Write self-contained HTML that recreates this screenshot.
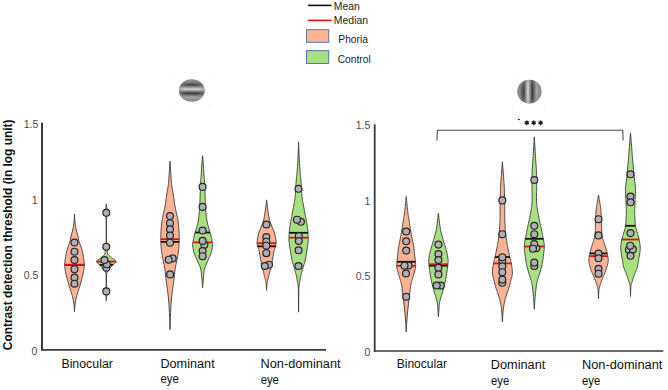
<!DOCTYPE html>
<html><head><meta charset="utf-8"><style>
html,body{margin:0;padding:0;background:#fff;}
body{width:668px;height:390px;overflow:hidden;}
svg{display:block;font-family:"Liberation Sans",sans-serif;}
</style></head><body>
<svg width="668" height="390" viewBox="0 0 668 390">
<defs>
<linearGradient id="gh" x1="0" y1="79" x2="0" y2="102" gradientUnits="userSpaceOnUse">
  <stop offset="0" stop-color="#8c8c8c"/>
  <stop offset="0.08" stop-color="#8c8c8c"/>
  <stop offset="0.25" stop-color="#3c3c3c"/>
  <stop offset="0.44" stop-color="#dadada"/>
  <stop offset="0.62" stop-color="#383838"/>
  <stop offset="0.80" stop-color="#b0b0b0"/>
  <stop offset="0.92" stop-color="#8c8c8c"/>
  <stop offset="1" stop-color="#8c8c8c"/>
</linearGradient>
<linearGradient id="gv" x1="517" y1="0" x2="542" y2="0" gradientUnits="userSpaceOnUse">
  <stop offset="0" stop-color="#8c8c8c"/>
  <stop offset="0.08" stop-color="#8c8c8c"/>
  <stop offset="0.26" stop-color="#3c3c3c"/>
  <stop offset="0.44" stop-color="#dadada"/>
  <stop offset="0.61" stop-color="#383838"/>
  <stop offset="0.79" stop-color="#b0b0b0"/>
  <stop offset="0.92" stop-color="#8c8c8c"/>
  <stop offset="1" stop-color="#8c8c8c"/>
</linearGradient>
<radialGradient id="env">
  <stop offset="0" stop-color="#fff" stop-opacity="1"/>
  <stop offset="0.45" stop-color="#fff" stop-opacity="0.95"/>
  <stop offset="0.8" stop-color="#fff" stop-opacity="0.35"/>
  <stop offset="1" stop-color="#fff" stop-opacity="0"/>
</radialGradient>
<mask id="mh" maskUnits="userSpaceOnUse" x="170" y="70" width="45" height="40"><ellipse cx="191.8" cy="90.5" rx="17" ry="12.5" fill="url(#env)"/></mask>
<mask id="mv" maskUnits="userSpaceOnUse" x="510" y="75" width="40" height="35"><ellipse cx="529.4" cy="91.6" rx="13.2" ry="17" fill="url(#env)"/></mask>
<clipPath id="ch"><ellipse cx="191.8" cy="90.5" rx="12.9" ry="11.3"/></clipPath>
<clipPath id="cv"><ellipse cx="529.4" cy="91.6" rx="12.2" ry="11.8"/></clipPath>
<filter id="blur1" x="-20%" y="-20%" width="140%" height="140%"><feGaussianBlur stdDeviation="0.55"/></filter>
</defs>
<g filter="url(#blur1)"><ellipse cx="191.8" cy="90.5" rx="12.9" ry="11.3" fill="#8e8e8e"/><g clip-path="url(#ch)"><rect x="170" y="70" width="45" height="40" fill="url(#gh)" mask="url(#mh)"/></g></g>
<g filter="url(#blur1)"><ellipse cx="529.4" cy="91.6" rx="12.2" ry="11.8" fill="#8e8e8e"/><g clip-path="url(#cv)"><rect x="510" y="75" width="40" height="35" fill="url(#gv)" mask="url(#mv)"/></g></g>
<rect x="171.0" y="75.1" width="1" height="1" fill="#d4d4d4"/>
<rect x="210.5" y="75.1" width="1" height="1" fill="#d4d4d4"/>
<rect x="171.0" y="104.5" width="1" height="1" fill="#d4d4d4"/>
<rect x="210.5" y="104.5" width="1" height="1" fill="#d4d4d4"/>
<rect x="512.8" y="72.9" width="1" height="1" fill="#d4d4d4"/>
<rect x="544.9" y="72.9" width="1" height="1" fill="#d4d4d4"/>
<rect x="512.8" y="109.8" width="1" height="1" fill="#d4d4d4"/>
<rect x="544.9" y="109.8" width="1" height="1" fill="#d4d4d4"/>
<line x1="42" y1="122.7" x2="42" y2="350.5" stroke="#3a3a3a" stroke-width="2"/>
<line x1="41" y1="349.8" x2="326" y2="349.8" stroke="#3a3a3a" stroke-width="1.8"/>
<line x1="374.7" y1="124.2" x2="374.7" y2="351.8" stroke="#3a3a3a" stroke-width="1.8"/>
<line x1="373.8" y1="351" x2="663.3" y2="351" stroke="#3a3a3a" stroke-width="1.7"/>
<text x="38.4" y="127.7" font-size="10.5" text-anchor="end" font-weight="normal" fill="#4a4a4a">1.5</text>
<text x="37.6" y="203.5" font-size="10.5" text-anchor="end" font-weight="normal" fill="#4a4a4a">1</text>
<text x="38.4" y="278.8" font-size="10.5" text-anchor="end" font-weight="normal" fill="#4a4a4a">0.5</text>
<text x="37.4" y="354.6" font-size="10.5" text-anchor="end" font-weight="normal" fill="#4a4a4a">0</text>
<text x="370.4" y="129.20000000000002" font-size="10.5" text-anchor="end" font-weight="normal" fill="#4a4a4a">1.5</text>
<text x="370.4" y="204.60000000000002" font-size="10.5" text-anchor="end" font-weight="normal" fill="#4a4a4a">1</text>
<text x="370.4" y="279.8" font-size="10.5" text-anchor="end" font-weight="normal" fill="#4a4a4a">0.5</text>
<text x="370.4" y="355.7" font-size="10.5" text-anchor="end" font-weight="normal" fill="#4a4a4a">0</text>
<path d="M436.9,140.5 L437.4,130.3 L622.8,130.3 L623.1,140.5" fill="none" stroke="#4a4a4a" stroke-width="1.05"/>
<path d="M526.80,120.40L526.80,125.20M524.72,121.60L528.88,124.00M528.88,121.60L524.72,124.00" stroke="#1a1a1a" stroke-width="1.35" stroke-linecap="butt"/>
<path d="M533.70,120.40L533.70,125.20M531.62,121.60L535.78,124.00M535.78,121.60L531.62,124.00" stroke="#1a1a1a" stroke-width="1.35" stroke-linecap="butt"/>
<path d="M540.60,120.40L540.60,125.20M538.52,121.60L542.68,124.00M542.68,121.60L538.52,124.00" stroke="#1a1a1a" stroke-width="1.35" stroke-linecap="butt"/>
<rect x="517.9" y="119.0" width="1.9" height="1.1" fill="#222"/>
<path d="M74.50,214.00 L74.55,214.87 L74.60,216.07 L74.67,217.50 L74.76,219.04 L74.86,220.57 L75.00,222.00 L75.17,223.36 L75.36,224.74 L75.58,226.12 L75.81,227.48 L76.06,228.78 L76.30,230.00 L76.55,231.12 L76.82,232.15 L77.10,233.12 L77.38,234.07 L77.65,235.02 L77.90,236.00 L78.13,237.02 L78.34,238.05 L78.54,239.08 L78.74,240.10 L78.96,241.08 L79.20,242.00 L79.47,242.82 L79.75,243.53 L80.05,244.21 L80.36,244.91 L80.68,245.72 L81.00,246.70 L81.34,247.86 L81.71,249.15 L82.09,250.54 L82.46,252.00 L82.80,253.49 L83.10,255.00 L83.38,256.55 L83.65,258.17 L83.90,259.83 L84.10,261.50 L84.24,263.13 L84.30,264.70 L84.27,266.16 L84.18,267.53 L84.02,268.87 L83.80,270.24 L83.53,271.70 L83.20,273.30 L82.80,275.10 L82.31,277.06 L81.76,279.11 L81.19,281.17 L80.63,283.16 L80.10,285.00 L79.59,286.69 L79.08,288.30 L78.57,289.84 L78.08,291.33 L77.62,292.78 L77.20,294.20 L76.83,295.56 L76.49,296.83 L76.17,298.07 L75.89,299.31 L75.64,300.61 L75.40,302.00 L75.19,303.62 L75.00,305.45 L74.84,307.34 L74.70,309.11 L74.59,310.62 L74.50,311.70 L74.50,311.70 L74.41,310.62 L74.30,309.11 L74.16,307.34 L74.00,305.45 L73.81,303.62 L73.60,302.00 L73.36,300.61 L73.11,299.31 L72.83,298.07 L72.51,296.83 L72.17,295.56 L71.80,294.20 L71.38,292.78 L70.92,291.33 L70.43,289.84 L69.92,288.30 L69.41,286.69 L68.90,285.00 L68.37,283.16 L67.81,281.17 L67.24,279.11 L66.69,277.06 L66.20,275.10 L65.80,273.30 L65.47,271.70 L65.20,270.24 L64.98,268.87 L64.82,267.53 L64.73,266.16 L64.70,264.70 L64.76,263.13 L64.90,261.50 L65.10,259.83 L65.35,258.17 L65.62,256.55 L65.90,255.00 L66.20,253.49 L66.54,252.00 L66.91,250.54 L67.29,249.15 L67.66,247.86 L68.00,246.70 L68.32,245.72 L68.64,244.91 L68.95,244.21 L69.25,243.53 L69.53,242.82 L69.80,242.00 L70.04,241.08 L70.26,240.10 L70.46,239.08 L70.66,238.05 L70.87,237.02 L71.10,236.00 L71.35,235.02 L71.62,234.07 L71.90,233.12 L72.18,232.15 L72.45,231.12 L72.70,230.00 L72.94,228.78 L73.19,227.48 L73.42,226.12 L73.64,224.74 L73.83,223.36 L74.00,222.00 L74.14,220.57 L74.24,219.04 L74.33,217.50 L74.40,216.07 L74.45,214.87 L74.50,214.00Z" fill="#fbb394" stroke="#3a3a3a" stroke-width="0.9" stroke-linejoin="round"/>
<line x1="64.70" y1="264.9" x2="84.30" y2="264.9" stroke="#111" stroke-width="1.8"/>
<line x1="64.70" y1="264.7" x2="84.30" y2="264.7" stroke="#dd1111" stroke-width="1.8"/>
<circle cx="74.5" cy="242.5" r="3.45" fill="#afafb4" stroke="#262626" stroke-width="1.2"/>
<circle cx="74.5" cy="251.7" r="3.45" fill="#afafb4" stroke="#262626" stroke-width="1.2"/>
<circle cx="74.5" cy="260" r="3.45" fill="#afafb4" stroke="#262626" stroke-width="1.2"/>
<circle cx="74.5" cy="269.2" r="3.45" fill="#afafb4" stroke="#262626" stroke-width="1.2"/>
<circle cx="74.5" cy="277.5" r="3.45" fill="#afafb4" stroke="#262626" stroke-width="1.2"/>
<circle cx="74.5" cy="283.7" r="3.45" fill="#afafb4" stroke="#262626" stroke-width="1.2"/>
<path d="M106.30,203.80 L106.34,204.15 L106.39,204.64 L106.45,205.21 L106.51,205.83 L106.58,206.44 L106.65,207.00 L106.73,207.48 L106.82,207.90 L106.92,208.32 L107.00,208.79 L107.07,209.33 L107.10,210.00 L107.09,210.83 L107.06,211.78 L107.00,212.81 L106.93,213.89 L106.86,214.97 L106.80,216.00 L106.74,216.86 L106.67,217.56 L106.61,218.25 L106.54,219.11 L106.49,220.31 L106.45,222.00 L106.42,224.44 L106.41,227.56 L106.40,231.00 L106.40,234.44 L106.42,237.56 L106.45,240.00 L106.50,241.70 L106.56,242.91 L106.64,243.79 L106.73,244.50 L106.82,245.18 L106.90,246.00 L106.98,246.95 L107.06,247.90 L107.13,248.82 L107.22,249.71 L107.30,250.55 L107.40,251.30 L107.47,251.95 L107.50,252.51 L107.54,253.01 L107.63,253.49 L107.80,253.97 L108.10,254.50 L108.55,255.06 L109.13,255.64 L109.79,256.23 L110.50,256.81 L111.21,257.41 L111.90,258.00 L112.65,258.60 L113.51,259.20 L114.38,259.81 L115.16,260.41 L115.73,261.01 L116.00,261.60 L115.90,262.18 L115.50,262.74 L114.91,263.31 L114.21,263.87 L113.51,264.43 L112.90,265.00 L112.36,265.58 L111.81,266.17 L111.26,266.76 L110.71,267.34 L110.19,267.93 L109.70,268.50 L109.24,269.05 L108.78,269.58 L108.35,270.11 L107.96,270.64 L107.60,271.20 L107.30,271.80 L107.06,272.38 L106.87,272.92 L106.72,273.48 L106.61,274.14 L106.52,274.95 L106.45,276.00 L106.40,277.39 L106.37,279.09 L106.37,280.95 L106.39,282.82 L106.41,284.56 L106.45,286.00 L106.51,287.12 L106.59,288.04 L106.69,288.81 L106.78,289.52 L106.86,290.22 L106.90,291.00 L106.91,291.84 L106.89,292.67 L106.85,293.51 L106.81,294.35 L106.75,295.18 L106.70,296.00 L106.64,296.87 L106.57,297.79 L106.49,298.71 L106.41,299.56 L106.35,300.28 L106.30,300.80 L106.30,300.80 L106.25,300.28 L106.19,299.56 L106.11,298.71 L106.03,297.79 L105.96,296.87 L105.90,296.00 L105.85,295.18 L105.79,294.35 L105.75,293.51 L105.71,292.67 L105.69,291.84 L105.70,291.00 L105.74,290.22 L105.82,289.52 L105.91,288.81 L106.01,288.04 L106.09,287.12 L106.15,286.00 L106.19,284.56 L106.21,282.82 L106.23,280.95 L106.23,279.09 L106.20,277.39 L106.15,276.00 L106.08,274.95 L105.99,274.14 L105.88,273.48 L105.73,272.92 L105.54,272.38 L105.30,271.80 L105.00,271.20 L104.64,270.64 L104.25,270.11 L103.82,269.58 L103.36,269.05 L102.90,268.50 L102.41,267.93 L101.89,267.34 L101.34,266.76 L100.79,266.17 L100.24,265.58 L99.70,265.00 L99.09,264.43 L98.39,263.87 L97.69,263.31 L97.10,262.74 L96.70,262.18 L96.60,261.60 L96.87,261.01 L97.44,260.41 L98.22,259.81 L99.09,259.20 L99.95,258.60 L100.70,258.00 L101.39,257.41 L102.10,256.81 L102.81,256.23 L103.47,255.64 L104.05,255.06 L104.50,254.50 L104.80,253.97 L104.97,253.49 L105.06,253.01 L105.10,252.51 L105.13,251.95 L105.20,251.30 L105.30,250.55 L105.38,249.71 L105.47,248.82 L105.54,247.90 L105.62,246.95 L105.70,246.00 L105.78,245.18 L105.87,244.50 L105.96,243.79 L106.04,242.91 L106.10,241.70 L106.15,240.00 L106.18,237.56 L106.20,234.44 L106.20,231.00 L106.19,227.56 L106.18,224.44 L106.15,222.00 L106.11,220.31 L106.06,219.11 L105.99,218.25 L105.93,217.56 L105.86,216.86 L105.80,216.00 L105.74,214.97 L105.67,213.89 L105.60,212.81 L105.54,211.78 L105.51,210.83 L105.50,210.00 L105.53,209.33 L105.60,208.79 L105.68,208.32 L105.78,207.90 L105.87,207.48 L105.95,207.00 L106.02,206.44 L106.09,205.83 L106.15,205.21 L106.21,204.64 L106.26,204.15 L106.30,203.80Z" fill="#a8e080" stroke="#3a3a3a" stroke-width="0.9" stroke-linejoin="round"/>
<line x1="99.50" y1="264.8" x2="113.10" y2="264.8" stroke="#111" stroke-width="1.8"/>
<line x1="96.60" y1="261.6" x2="116.00" y2="261.6" stroke="#dd1111" stroke-width="1.8"/>
<circle cx="106.3" cy="212.8" r="3.45" fill="#afafb4" stroke="#262626" stroke-width="1.2"/>
<circle cx="106.3" cy="246.7" r="3.45" fill="#afafb4" stroke="#262626" stroke-width="1.2"/>
<circle cx="106.4" cy="267.8" r="3.45" fill="#afafb4" stroke="#262626" stroke-width="1.2"/>
<circle cx="106.9" cy="264.3" r="3.45" fill="#afafb4" stroke="#262626" stroke-width="1.2"/>
<circle cx="104.5" cy="260.0" r="3.45" fill="#afafb4" stroke="#262626" stroke-width="1.2"/>
<circle cx="106.3" cy="291.4" r="3.45" fill="#afafb4" stroke="#262626" stroke-width="1.2"/>
<path d="M170.00,161.20 L170.07,162.14 L170.16,163.44 L170.26,164.97 L170.38,166.65 L170.49,168.36 L170.60,170.00 L170.70,171.65 L170.80,173.40 L170.90,175.19 L171.00,176.93 L171.10,178.56 L171.20,180.00 L171.29,181.17 L171.36,182.12 L171.44,182.95 L171.53,183.77 L171.64,184.69 L171.80,185.80 L172.01,187.13 L172.27,188.59 L172.55,190.14 L172.84,191.75 L173.13,193.38 L173.40,195.00 L173.64,196.62 L173.86,198.27 L174.07,199.95 L174.30,201.64 L174.53,203.32 L174.80,205.00 L175.11,206.72 L175.45,208.50 L175.81,210.29 L176.17,212.01 L176.51,213.60 L176.80,215.00 L177.05,216.12 L177.27,216.99 L177.47,217.73 L177.65,218.46 L177.83,219.31 L178.00,220.40 L178.17,221.76 L178.34,223.30 L178.51,224.96 L178.66,226.67 L178.79,228.37 L178.90,230.00 L178.99,231.56 L179.07,233.11 L179.13,234.65 L179.17,236.18 L179.20,237.69 L179.20,239.20 L179.18,240.70 L179.14,242.20 L179.08,243.69 L179.00,245.16 L178.91,246.60 L178.80,248.00 L178.67,249.38 L178.52,250.73 L178.36,252.06 L178.18,253.36 L177.99,254.60 L177.80,255.80 L177.60,256.91 L177.40,257.92 L177.18,258.89 L176.96,259.86 L176.73,260.88 L176.50,262.00 L176.26,263.20 L176.00,264.44 L175.74,265.73 L175.48,267.08 L175.23,268.50 L175.00,270.00 L174.80,271.62 L174.61,273.35 L174.44,275.16 L174.27,276.98 L174.10,278.78 L173.90,280.50 L173.68,282.12 L173.45,283.69 L173.21,285.22 L172.96,286.76 L172.73,288.34 L172.50,290.00 L172.28,291.71 L172.07,293.44 L171.86,295.22 L171.66,297.06 L171.47,298.98 L171.30,301.00 L171.14,303.15 L170.99,305.42 L170.86,307.77 L170.73,310.17 L170.61,312.59 L170.50,315.00 L170.39,317.58 L170.29,320.39 L170.20,323.23 L170.12,325.86 L170.05,328.09 L170.00,329.70 L170.00,329.70 L169.95,328.09 L169.88,325.86 L169.80,323.23 L169.71,320.39 L169.61,317.58 L169.50,315.00 L169.39,312.59 L169.27,310.17 L169.14,307.77 L169.01,305.42 L168.86,303.15 L168.70,301.00 L168.53,298.98 L168.34,297.06 L168.14,295.22 L167.93,293.44 L167.72,291.71 L167.50,290.00 L167.27,288.34 L167.04,286.76 L166.79,285.22 L166.55,283.69 L166.32,282.12 L166.10,280.50 L165.90,278.78 L165.73,276.98 L165.56,275.16 L165.39,273.35 L165.20,271.62 L165.00,270.00 L164.77,268.50 L164.52,267.08 L164.26,265.73 L164.00,264.44 L163.74,263.20 L163.50,262.00 L163.27,260.88 L163.04,259.86 L162.82,258.89 L162.60,257.92 L162.40,256.91 L162.20,255.80 L162.01,254.60 L161.82,253.36 L161.64,252.06 L161.48,250.73 L161.33,249.38 L161.20,248.00 L161.09,246.60 L161.00,245.16 L160.92,243.69 L160.86,242.20 L160.82,240.70 L160.80,239.20 L160.80,237.69 L160.83,236.18 L160.87,234.65 L160.93,233.11 L161.01,231.56 L161.10,230.00 L161.21,228.37 L161.34,226.67 L161.49,224.96 L161.66,223.30 L161.83,221.76 L162.00,220.40 L162.17,219.31 L162.35,218.46 L162.53,217.73 L162.73,216.99 L162.95,216.12 L163.20,215.00 L163.49,213.60 L163.83,212.01 L164.19,210.29 L164.55,208.50 L164.89,206.72 L165.20,205.00 L165.47,203.32 L165.70,201.64 L165.93,199.95 L166.14,198.27 L166.36,196.62 L166.60,195.00 L166.87,193.38 L167.16,191.75 L167.45,190.14 L167.73,188.59 L167.99,187.13 L168.20,185.80 L168.36,184.69 L168.47,183.77 L168.56,182.95 L168.64,182.12 L168.71,181.17 L168.80,180.00 L168.90,178.56 L169.00,176.93 L169.10,175.19 L169.20,173.40 L169.30,171.65 L169.40,170.00 L169.51,168.36 L169.62,166.65 L169.74,164.97 L169.84,163.44 L169.93,162.14 L170.00,161.20Z" fill="#fbb394" stroke="#3a3a3a" stroke-width="0.9" stroke-linejoin="round"/>
<line x1="160.85" y1="241.9" x2="179.15" y2="241.9" stroke="#111" stroke-width="1.8"/>
<line x1="160.80" y1="239.2" x2="179.20" y2="239.2" stroke="#dd1111" stroke-width="1.8"/>
<circle cx="170" cy="216.1" r="3.45" fill="#afafb4" stroke="#262626" stroke-width="1.2"/>
<circle cx="170" cy="223.2" r="3.45" fill="#afafb4" stroke="#262626" stroke-width="1.2"/>
<circle cx="170" cy="229.3" r="3.45" fill="#afafb4" stroke="#262626" stroke-width="1.2"/>
<circle cx="170" cy="235.5" r="3.45" fill="#afafb4" stroke="#262626" stroke-width="1.2"/>
<circle cx="170" cy="242.7" r="3.45" fill="#afafb4" stroke="#262626" stroke-width="1.2"/>
<circle cx="172.6" cy="258.4" r="3.45" fill="#afafb4" stroke="#262626" stroke-width="1.2"/>
<circle cx="168.7" cy="259.7" r="3.45" fill="#afafb4" stroke="#262626" stroke-width="1.2"/>
<circle cx="170.1" cy="274.4" r="3.45" fill="#afafb4" stroke="#262626" stroke-width="1.2"/>
<path d="M202.60,155.80 L202.69,156.79 L202.81,158.16 L202.96,159.78 L203.12,161.53 L203.27,163.31 L203.40,165.00 L203.51,166.67 L203.62,168.43 L203.72,170.21 L203.81,171.95 L203.91,173.57 L204.00,175.00 L204.09,176.10 L204.17,176.89 L204.25,177.56 L204.33,178.31 L204.41,179.33 L204.50,180.80 L204.60,182.89 L204.70,185.47 L204.81,188.31 L204.92,191.20 L205.02,193.90 L205.10,196.20 L205.16,198.03 L205.20,199.56 L205.24,200.91 L205.27,202.19 L205.32,203.52 L205.40,205.00 L205.50,206.68 L205.62,208.49 L205.76,210.34 L205.90,212.16 L206.05,213.87 L206.20,215.40 L206.35,216.73 L206.50,217.91 L206.66,218.99 L206.83,220.01 L207.01,221.00 L207.20,222.00 L207.40,222.98 L207.61,223.91 L207.82,224.81 L208.06,225.71 L208.32,226.67 L208.60,227.70 L208.93,228.83 L209.30,230.03 L209.70,231.28 L210.10,232.54 L210.47,233.79 L210.80,235.00 L211.09,236.20 L211.36,237.44 L211.61,238.66 L211.84,239.82 L212.03,240.88 L212.20,241.80 L212.35,242.49 L212.47,242.97 L212.57,243.34 L212.64,243.73 L212.65,244.25 L212.60,245.00 L212.49,246.02 L212.33,247.23 L212.12,248.57 L211.87,249.97 L211.56,251.36 L211.20,252.70 L210.77,253.98 L210.27,255.27 L209.71,256.56 L209.13,257.84 L208.55,259.12 L208.00,260.40 L207.44,261.67 L206.86,262.93 L206.28,264.19 L205.72,265.46 L205.22,266.72 L204.80,268.00 L204.48,269.24 L204.24,270.43 L204.06,271.62 L203.91,272.88 L203.77,274.25 L203.60,275.80 L203.41,277.70 L203.21,279.93 L203.03,282.29 L202.85,284.53 L202.71,286.45 L202.60,287.80 L202.60,287.80 L202.49,286.45 L202.35,284.53 L202.17,282.29 L201.99,279.93 L201.79,277.70 L201.60,275.80 L201.43,274.25 L201.29,272.88 L201.14,271.62 L200.96,270.43 L200.72,269.24 L200.40,268.00 L199.98,266.72 L199.48,265.46 L198.92,264.19 L198.34,262.93 L197.76,261.67 L197.20,260.40 L196.65,259.12 L196.07,257.84 L195.49,256.56 L194.93,255.27 L194.43,253.98 L194.00,252.70 L193.64,251.36 L193.33,249.97 L193.07,248.57 L192.87,247.23 L192.71,246.02 L192.60,245.00 L192.55,244.25 L192.56,243.73 L192.62,243.34 L192.73,242.97 L192.85,242.49 L193.00,241.80 L193.17,240.88 L193.36,239.82 L193.59,238.66 L193.84,237.44 L194.11,236.20 L194.40,235.00 L194.73,233.79 L195.10,232.54 L195.50,231.28 L195.90,230.03 L196.27,228.83 L196.60,227.70 L196.88,226.67 L197.14,225.71 L197.38,224.81 L197.59,223.91 L197.80,222.98 L198.00,222.00 L198.19,221.00 L198.37,220.01 L198.54,218.99 L198.70,217.91 L198.85,216.73 L199.00,215.40 L199.15,213.87 L199.30,212.16 L199.44,210.34 L199.58,208.49 L199.70,206.68 L199.80,205.00 L199.88,203.52 L199.93,202.19 L199.96,200.91 L200.00,199.56 L200.04,198.03 L200.10,196.20 L200.18,193.90 L200.28,191.20 L200.39,188.31 L200.50,185.47 L200.60,182.89 L200.70,180.80 L200.79,179.33 L200.87,178.31 L200.95,177.56 L201.03,176.89 L201.11,176.10 L201.20,175.00 L201.29,173.57 L201.39,171.95 L201.48,170.21 L201.58,168.43 L201.69,166.67 L201.80,165.00 L201.93,163.31 L202.08,161.53 L202.24,159.78 L202.39,158.16 L202.51,156.79 L202.60,155.80Z" fill="#a8e080" stroke="#3a3a3a" stroke-width="0.9" stroke-linejoin="round"/>
<line x1="195.12" y1="232.5" x2="210.08" y2="232.5" stroke="#111" stroke-width="1.8"/>
<line x1="192.88" y1="242.4" x2="212.32" y2="242.4" stroke="#dd1111" stroke-width="1.8"/>
<circle cx="204.4" cy="244.8" r="3.45" fill="#afafb4" stroke="#262626" stroke-width="1.2"/>
<circle cx="202.6" cy="186.9" r="3.45" fill="#afafb4" stroke="#262626" stroke-width="1.2"/>
<circle cx="202.6" cy="206.9" r="3.45" fill="#afafb4" stroke="#262626" stroke-width="1.2"/>
<circle cx="202.6" cy="230.5" r="3.45" fill="#afafb4" stroke="#262626" stroke-width="1.2"/>
<circle cx="202.6" cy="240.9" r="3.45" fill="#afafb4" stroke="#262626" stroke-width="1.2"/>
<circle cx="202.6" cy="251.0" r="3.45" fill="#afafb4" stroke="#262626" stroke-width="1.2"/>
<circle cx="202.6" cy="256.2" r="3.45" fill="#afafb4" stroke="#262626" stroke-width="1.2"/>
<path d="M266.60,199.90 L266.70,200.76 L266.84,201.93 L267.01,203.33 L267.19,204.86 L267.39,206.45 L267.60,208.00 L267.81,209.58 L268.03,211.27 L268.26,213.02 L268.51,214.76 L268.79,216.44 L269.10,218.00 L269.45,219.43 L269.84,220.77 L270.26,222.04 L270.69,223.29 L271.14,224.53 L271.60,225.80 L272.09,227.06 L272.62,228.29 L273.16,229.51 L273.69,230.77 L274.18,232.08 L274.60,233.50 L274.98,235.07 L275.34,236.78 L275.66,238.55 L275.91,240.31 L276.06,241.99 L276.10,243.50 L275.97,244.82 L275.70,246.00 L275.33,247.10 L274.92,248.16 L274.53,249.25 L274.20,250.40 L273.94,251.62 L273.70,252.87 L273.47,254.14 L273.25,255.43 L273.03,256.71 L272.80,258.00 L272.57,259.31 L272.34,260.64 L272.12,261.99 L271.89,263.31 L271.65,264.59 L271.40,265.80 L271.12,266.95 L270.82,268.07 L270.51,269.14 L270.21,270.16 L269.93,271.11 L269.70,272.00 L269.52,272.79 L269.38,273.50 L269.27,274.14 L269.16,274.75 L269.05,275.36 L268.90,276.00 L268.72,276.67 L268.51,277.33 L268.29,278.00 L268.08,278.67 L267.88,279.33 L267.70,280.00 L267.55,280.64 L267.42,281.24 L267.30,281.85 L267.19,282.49 L267.09,283.19 L267.00,284.00 L266.91,285.00 L266.83,286.19 L266.76,287.45 L266.69,288.65 L266.64,289.68 L266.60,290.40 L266.60,290.40 L266.56,289.68 L266.51,288.65 L266.44,287.45 L266.37,286.19 L266.29,285.00 L266.20,284.00 L266.11,283.19 L266.01,282.49 L265.90,281.85 L265.78,281.24 L265.65,280.64 L265.50,280.00 L265.32,279.33 L265.12,278.67 L264.91,278.00 L264.69,277.33 L264.48,276.67 L264.30,276.00 L264.15,275.36 L264.04,274.75 L263.93,274.14 L263.82,273.50 L263.68,272.79 L263.50,272.00 L263.27,271.11 L262.99,270.16 L262.69,269.14 L262.38,268.07 L262.08,266.95 L261.80,265.80 L261.55,264.59 L261.31,263.31 L261.08,261.99 L260.86,260.64 L260.63,259.31 L260.40,258.00 L260.17,256.71 L259.95,255.43 L259.73,254.14 L259.50,252.87 L259.26,251.62 L259.00,250.40 L258.67,249.25 L258.28,248.16 L257.87,247.10 L257.50,246.00 L257.23,244.82 L257.10,243.50 L257.14,241.99 L257.29,240.31 L257.54,238.55 L257.86,236.78 L258.22,235.07 L258.60,233.50 L259.02,232.08 L259.51,230.77 L260.04,229.51 L260.58,228.29 L261.11,227.06 L261.60,225.80 L262.06,224.53 L262.51,223.29 L262.94,222.04 L263.36,220.77 L263.75,219.43 L264.10,218.00 L264.41,216.44 L264.69,214.76 L264.94,213.02 L265.17,211.27 L265.39,209.58 L265.60,208.00 L265.81,206.45 L266.01,204.86 L266.19,203.33 L266.36,201.93 L266.50,200.76 L266.60,199.90Z" fill="#fbb394" stroke="#3a3a3a" stroke-width="0.9" stroke-linejoin="round"/>
<line x1="257.59" y1="246.3" x2="275.61" y2="246.3" stroke="#111" stroke-width="1.8"/>
<line x1="257.10" y1="243.2" x2="276.10" y2="243.2" stroke="#dd1111" stroke-width="1.8"/>
<circle cx="266.4" cy="224.5" r="3.45" fill="#afafb4" stroke="#262626" stroke-width="1.2"/>
<circle cx="266.3" cy="237.1" r="3.45" fill="#afafb4" stroke="#262626" stroke-width="1.2"/>
<circle cx="266.3" cy="241.7" r="3.45" fill="#afafb4" stroke="#262626" stroke-width="1.2"/>
<circle cx="266.3" cy="245.7" r="3.45" fill="#afafb4" stroke="#262626" stroke-width="1.2"/>
<circle cx="266.3" cy="253.2" r="3.45" fill="#afafb4" stroke="#262626" stroke-width="1.2"/>
<circle cx="269.0" cy="264.7" r="3.45" fill="#afafb4" stroke="#262626" stroke-width="1.2"/>
<circle cx="264.8" cy="266.0" r="3.45" fill="#afafb4" stroke="#262626" stroke-width="1.2"/>
<path d="M298.60,141.90 L298.65,143.36 L298.73,145.41 L298.82,147.83 L298.91,150.38 L299.01,152.84 L299.10,155.00 L299.18,156.86 L299.26,158.62 L299.34,160.29 L299.42,161.89 L299.51,163.46 L299.60,165.00 L299.71,166.53 L299.82,168.02 L299.94,169.47 L300.07,170.87 L300.19,172.22 L300.30,173.50 L300.40,174.67 L300.50,175.73 L300.60,176.73 L300.70,177.74 L300.80,178.81 L300.90,180.00 L301.01,181.33 L301.13,182.76 L301.26,184.25 L301.38,185.77 L301.49,187.30 L301.60,188.80 L301.69,190.30 L301.75,191.82 L301.81,193.34 L301.88,194.85 L301.97,196.31 L302.10,197.70 L302.27,199.00 L302.47,200.23 L302.69,201.41 L302.92,202.57 L303.16,203.76 L303.40,205.00 L303.64,206.30 L303.89,207.65 L304.15,209.02 L304.41,210.38 L304.66,211.72 L304.90,213.00 L305.13,214.21 L305.34,215.35 L305.56,216.47 L305.77,217.59 L305.98,218.76 L306.20,220.00 L306.44,221.33 L306.69,222.72 L306.94,224.16 L307.19,225.61 L307.41,227.07 L307.60,228.50 L307.75,229.97 L307.88,231.50 L307.99,233.03 L308.07,234.50 L308.14,235.84 L308.20,237.00 L308.25,237.87 L308.29,238.48 L308.31,238.97 L308.31,239.46 L308.28,240.10 L308.20,241.00 L308.08,242.19 L307.91,243.57 L307.71,245.09 L307.49,246.70 L307.25,248.36 L307.00,250.00 L306.73,251.73 L306.43,253.61 L306.11,255.53 L305.79,257.39 L305.48,259.08 L305.20,260.50 L304.95,261.58 L304.71,262.40 L304.49,263.04 L304.27,263.63 L304.04,264.24 L303.80,265.00 L303.54,265.90 L303.27,266.86 L303.00,267.86 L302.73,268.86 L302.46,269.85 L302.20,270.80 L301.95,271.70 L301.70,272.59 L301.46,273.45 L301.22,274.30 L301.00,275.15 L300.80,276.00 L300.62,276.84 L300.46,277.68 L300.32,278.51 L300.18,279.34 L300.04,280.17 L299.90,281.00 L299.74,281.79 L299.57,282.52 L299.41,283.25 L299.25,284.04 L299.11,284.94 L299.00,286.00 L298.93,287.17 L298.88,288.40 L298.86,289.74 L298.84,291.24 L298.83,292.98 L298.80,295.00 L298.76,297.59 L298.73,300.76 L298.69,304.16 L298.65,307.44 L298.62,310.23 L298.60,312.20 L298.60,312.20 L298.58,310.23 L298.55,307.44 L298.51,304.16 L298.47,300.76 L298.44,297.59 L298.40,295.00 L298.37,292.98 L298.36,291.24 L298.34,289.74 L298.32,288.40 L298.27,287.17 L298.20,286.00 L298.09,284.94 L297.95,284.04 L297.79,283.25 L297.63,282.52 L297.46,281.79 L297.30,281.00 L297.16,280.17 L297.02,279.34 L296.88,278.51 L296.74,277.68 L296.58,276.84 L296.40,276.00 L296.20,275.15 L295.98,274.30 L295.74,273.45 L295.50,272.59 L295.25,271.70 L295.00,270.80 L294.74,269.85 L294.47,268.86 L294.20,267.86 L293.93,266.86 L293.66,265.90 L293.40,265.00 L293.16,264.24 L292.93,263.63 L292.71,263.04 L292.49,262.40 L292.25,261.58 L292.00,260.50 L291.72,259.08 L291.41,257.39 L291.09,255.53 L290.77,253.61 L290.47,251.73 L290.20,250.00 L289.95,248.36 L289.71,246.70 L289.49,245.09 L289.29,243.57 L289.12,242.19 L289.00,241.00 L288.92,240.10 L288.89,239.46 L288.89,238.97 L288.91,238.48 L288.95,237.87 L289.00,237.00 L289.06,235.84 L289.13,234.50 L289.21,233.03 L289.32,231.50 L289.45,229.97 L289.60,228.50 L289.79,227.07 L290.01,225.61 L290.26,224.16 L290.51,222.72 L290.76,221.33 L291.00,220.00 L291.22,218.76 L291.43,217.59 L291.64,216.47 L291.86,215.35 L292.07,214.21 L292.30,213.00 L292.54,211.72 L292.79,210.38 L293.05,209.02 L293.31,207.65 L293.56,206.30 L293.80,205.00 L294.04,203.76 L294.28,202.57 L294.51,201.41 L294.73,200.23 L294.93,199.00 L295.10,197.70 L295.23,196.31 L295.32,194.85 L295.39,193.34 L295.45,191.82 L295.51,190.30 L295.60,188.80 L295.71,187.30 L295.82,185.77 L295.94,184.25 L296.07,182.76 L296.19,181.33 L296.30,180.00 L296.40,178.81 L296.50,177.74 L296.60,176.73 L296.70,175.73 L296.80,174.67 L296.90,173.50 L297.01,172.22 L297.13,170.87 L297.26,169.47 L297.38,168.02 L297.49,166.53 L297.60,165.00 L297.69,163.46 L297.78,161.89 L297.86,160.29 L297.94,158.62 L298.02,156.86 L298.10,155.00 L298.19,152.84 L298.29,150.38 L298.38,147.83 L298.47,145.41 L298.55,143.36 L298.60,141.90Z" fill="#a8e080" stroke="#3a3a3a" stroke-width="0.9" stroke-linejoin="round"/>
<line x1="289.23" y1="232.8" x2="307.97" y2="232.8" stroke="#111" stroke-width="1.8"/>
<line x1="288.96" y1="237.7" x2="308.24" y2="237.7" stroke="#dd1111" stroke-width="1.8"/>
<circle cx="298.5" cy="188.8" r="3.45" fill="#afafb4" stroke="#262626" stroke-width="1.2"/>
<circle cx="300.9" cy="221.8" r="3.45" fill="#afafb4" stroke="#262626" stroke-width="1.2"/>
<circle cx="297.0" cy="219.7" r="3.45" fill="#afafb4" stroke="#262626" stroke-width="1.2"/>
<circle cx="298.8" cy="236.2" r="3.45" fill="#afafb4" stroke="#262626" stroke-width="1.2"/>
<circle cx="298.8" cy="241" r="3.45" fill="#afafb4" stroke="#262626" stroke-width="1.2"/>
<circle cx="298.6" cy="250.3" r="3.45" fill="#afafb4" stroke="#262626" stroke-width="1.2"/>
<circle cx="298.5" cy="266.0" r="3.45" fill="#afafb4" stroke="#262626" stroke-width="1.2"/>
<path d="M406.20,196.50 L406.29,197.43 L406.40,198.72 L406.54,200.25 L406.70,201.89 L406.85,203.51 L407.00,205.00 L407.14,206.37 L407.29,207.74 L407.43,209.09 L407.58,210.43 L407.74,211.73 L407.90,213.00 L408.07,214.21 L408.24,215.35 L408.43,216.47 L408.61,217.59 L408.80,218.76 L409.00,220.00 L409.20,221.30 L409.39,222.61 L409.59,223.97 L409.80,225.39 L410.03,226.89 L410.30,228.50 L410.61,230.29 L410.96,232.25 L411.34,234.30 L411.71,236.34 L412.08,238.27 L412.40,240.00 L412.69,241.50 L412.97,242.85 L413.23,244.09 L413.47,245.27 L413.70,246.46 L413.90,247.70 L414.07,248.95 L414.21,250.17 L414.33,251.38 L414.44,252.63 L414.56,253.96 L414.70,255.40 L414.88,257.03 L415.10,258.82 L415.33,260.69 L415.53,262.54 L415.66,264.28 L415.70,265.80 L415.62,267.07 L415.46,268.17 L415.22,269.14 L414.96,270.07 L414.67,271.00 L414.40,272.00 L414.13,273.07 L413.84,274.14 L413.53,275.23 L413.22,276.32 L412.91,277.41 L412.60,278.50 L412.30,279.53 L411.99,280.50 L411.68,281.47 L411.37,282.50 L411.08,283.66 L410.80,285.00 L410.54,286.56 L410.30,288.30 L410.07,290.16 L409.85,292.09 L409.63,294.06 L409.40,296.00 L409.16,297.94 L408.92,299.93 L408.68,301.94 L408.44,303.96 L408.22,305.99 L408.00,308.00 L407.79,310.00 L407.60,312.00 L407.41,314.01 L407.23,316.01 L407.06,318.01 L406.90,320.00 L406.75,322.13 L406.61,324.41 L406.48,326.70 L406.37,328.82 L406.27,330.61 L406.20,331.90 L406.20,331.90 L406.13,330.61 L406.03,328.82 L405.92,326.70 L405.79,324.41 L405.65,322.13 L405.50,320.00 L405.34,318.01 L405.17,316.01 L404.99,314.01 L404.80,312.00 L404.61,310.00 L404.40,308.00 L404.18,305.99 L403.96,303.96 L403.72,301.94 L403.48,299.93 L403.24,297.94 L403.00,296.00 L402.77,294.06 L402.55,292.09 L402.32,290.16 L402.10,288.30 L401.86,286.56 L401.60,285.00 L401.32,283.66 L401.03,282.50 L400.72,281.47 L400.41,280.50 L400.10,279.53 L399.80,278.50 L399.49,277.41 L399.18,276.32 L398.87,275.23 L398.56,274.14 L398.27,273.07 L398.00,272.00 L397.73,271.00 L397.44,270.07 L397.18,269.14 L396.94,268.17 L396.78,267.07 L396.70,265.80 L396.74,264.28 L396.87,262.54 L397.07,260.69 L397.30,258.82 L397.52,257.03 L397.70,255.40 L397.84,253.96 L397.96,252.63 L398.07,251.38 L398.19,250.17 L398.33,248.95 L398.50,247.70 L398.70,246.46 L398.93,245.27 L399.17,244.09 L399.43,242.85 L399.71,241.50 L400.00,240.00 L400.32,238.27 L400.69,236.34 L401.06,234.30 L401.44,232.25 L401.79,230.29 L402.10,228.50 L402.37,226.89 L402.60,225.39 L402.81,223.97 L403.01,222.61 L403.20,221.30 L403.40,220.00 L403.60,218.76 L403.79,217.59 L403.97,216.47 L404.16,215.35 L404.33,214.21 L404.50,213.00 L404.66,211.73 L404.82,210.43 L404.97,209.09 L405.11,207.74 L405.26,206.37 L405.40,205.00 L405.55,203.51 L405.70,201.89 L405.86,200.25 L406.00,198.72 L406.11,197.43 L406.20,196.50Z" fill="#fbb394" stroke="#3a3a3a" stroke-width="0.9" stroke-linejoin="round"/>
<line x1="396.95" y1="261.8" x2="415.45" y2="261.8" stroke="#111" stroke-width="1.8"/>
<line x1="396.70" y1="265.8" x2="415.70" y2="265.8" stroke="#dd1111" stroke-width="1.8"/>
<circle cx="406.2" cy="231.5" r="3.45" fill="#afafb4" stroke="#262626" stroke-width="1.2"/>
<circle cx="406.2" cy="241.3" r="3.45" fill="#afafb4" stroke="#262626" stroke-width="1.2"/>
<circle cx="406.2" cy="250.6" r="3.45" fill="#afafb4" stroke="#262626" stroke-width="1.2"/>
<circle cx="408.6" cy="265.5" r="3.45" fill="#afafb4" stroke="#262626" stroke-width="1.2"/>
<circle cx="406.0" cy="273.5" r="3.45" fill="#afafb4" stroke="#262626" stroke-width="1.2"/>
<circle cx="404.5" cy="265.7" r="3.45" fill="#afafb4" stroke="#262626" stroke-width="1.2"/>
<circle cx="406.2" cy="296.7" r="3.45" fill="#afafb4" stroke="#262626" stroke-width="1.2"/>
<path d="M438.40,213.10 L438.51,214.07 L438.65,215.41 L438.82,217.00 L439.01,218.71 L439.20,220.42 L439.40,222.00 L439.59,223.50 L439.80,225.04 L440.01,226.57 L440.23,228.06 L440.46,229.48 L440.70,230.80 L440.95,231.97 L441.22,233.01 L441.49,233.98 L441.78,234.93 L442.08,235.92 L442.40,237.00 L442.74,238.19 L443.10,239.44 L443.47,240.72 L443.86,242.03 L444.23,243.33 L444.60,244.60 L444.97,245.85 L445.34,247.09 L445.71,248.32 L446.06,249.56 L446.40,250.78 L446.70,252.00 L446.98,253.23 L447.24,254.49 L447.49,255.73 L447.70,256.95 L447.87,258.11 L448.00,259.20 L448.07,260.17 L448.10,261.03 L448.09,261.83 L448.05,262.64 L447.98,263.51 L447.90,264.50 L447.79,265.61 L447.65,266.79 L447.49,268.03 L447.30,269.32 L447.11,270.65 L446.90,272.00 L446.68,273.42 L446.44,274.93 L446.18,276.48 L445.92,278.01 L445.66,279.47 L445.40,280.80 L445.15,281.99 L444.90,283.07 L444.66,284.08 L444.41,285.04 L444.16,286.01 L443.90,287.00 L443.64,288.02 L443.37,289.05 L443.11,290.07 L442.84,291.08 L442.57,292.06 L442.30,293.00 L442.03,293.88 L441.76,294.71 L441.48,295.51 L441.21,296.31 L440.95,297.13 L440.70,298.00 L440.46,298.92 L440.21,299.86 L439.98,300.83 L439.76,301.81 L439.57,302.80 L439.40,303.80 L439.27,304.80 L439.17,305.81 L439.10,306.83 L439.04,307.87 L438.97,308.92 L438.90,310.00 L438.81,311.19 L438.71,312.50 L438.62,313.84 L438.53,315.09 L438.45,316.14 L438.40,316.90 L438.40,316.90 L438.35,316.14 L438.27,315.09 L438.18,313.84 L438.09,312.50 L437.99,311.19 L437.90,310.00 L437.83,308.92 L437.76,307.87 L437.70,306.83 L437.63,305.81 L437.53,304.80 L437.40,303.80 L437.23,302.80 L437.04,301.81 L436.82,300.83 L436.59,299.86 L436.34,298.92 L436.10,298.00 L435.85,297.13 L435.59,296.31 L435.32,295.51 L435.04,294.71 L434.77,293.88 L434.50,293.00 L434.23,292.06 L433.96,291.08 L433.69,290.07 L433.43,289.05 L433.16,288.02 L432.90,287.00 L432.64,286.01 L432.39,285.04 L432.14,284.08 L431.90,283.07 L431.65,281.99 L431.40,280.80 L431.14,279.47 L430.88,278.01 L430.62,276.48 L430.36,274.93 L430.12,273.42 L429.90,272.00 L429.69,270.65 L429.50,269.32 L429.31,268.03 L429.15,266.79 L429.01,265.61 L428.90,264.50 L428.82,263.51 L428.75,262.64 L428.71,261.83 L428.70,261.03 L428.73,260.17 L428.80,259.20 L428.93,258.11 L429.10,256.95 L429.31,255.73 L429.56,254.49 L429.82,253.23 L430.10,252.00 L430.40,250.78 L430.74,249.56 L431.09,248.32 L431.46,247.09 L431.83,245.85 L432.20,244.60 L432.57,243.33 L432.94,242.03 L433.32,240.72 L433.70,239.44 L434.06,238.19 L434.40,237.00 L434.72,235.92 L435.02,234.93 L435.31,233.98 L435.58,233.01 L435.85,231.97 L436.10,230.80 L436.34,229.48 L436.57,228.06 L436.79,226.57 L437.00,225.04 L437.21,223.50 L437.40,222.00 L437.60,220.42 L437.79,218.71 L437.98,217.00 L438.15,215.41 L438.29,214.07 L438.40,213.10Z" fill="#a8e080" stroke="#3a3a3a" stroke-width="0.9" stroke-linejoin="round"/>
<line x1="429.02" y1="265.7" x2="447.78" y2="265.7" stroke="#111" stroke-width="1.8"/>
<line x1="428.88" y1="264.3" x2="447.92" y2="264.3" stroke="#dd1111" stroke-width="1.8"/>
<circle cx="438.4" cy="244.6" r="3.45" fill="#afafb4" stroke="#262626" stroke-width="1.2"/>
<circle cx="438.4" cy="254.0" r="3.45" fill="#afafb4" stroke="#262626" stroke-width="1.2"/>
<circle cx="438.4" cy="260.0" r="3.45" fill="#afafb4" stroke="#262626" stroke-width="1.2"/>
<circle cx="438.4" cy="267.9" r="3.45" fill="#afafb4" stroke="#262626" stroke-width="1.2"/>
<circle cx="438.4" cy="274.4" r="3.45" fill="#afafb4" stroke="#262626" stroke-width="1.2"/>
<circle cx="440.8" cy="285.5" r="3.45" fill="#afafb4" stroke="#262626" stroke-width="1.2"/>
<circle cx="436.7" cy="285.5" r="3.45" fill="#afafb4" stroke="#262626" stroke-width="1.2"/>
<path d="M502.40,161.90 L502.48,162.96 L502.60,164.38 L502.74,166.09 L502.89,167.99 L503.05,169.99 L503.20,172.00 L503.36,174.14 L503.54,176.50 L503.73,178.96 L503.91,181.40 L504.07,183.72 L504.20,185.80 L504.29,187.59 L504.36,189.18 L504.40,190.64 L504.43,192.04 L504.46,193.47 L504.50,195.00 L504.54,196.63 L504.58,198.30 L504.62,200.00 L504.65,201.70 L504.68,203.37 L504.70,205.00 L504.71,206.61 L504.71,208.24 L504.71,209.84 L504.70,211.39 L504.70,212.85 L504.70,214.20 L504.71,215.35 L504.71,216.32 L504.71,217.20 L504.73,218.10 L504.75,219.14 L504.80,220.40 L504.87,221.99 L504.96,223.84 L505.07,225.83 L505.18,227.80 L505.29,229.64 L505.40,231.20 L505.49,232.45 L505.58,233.48 L505.67,234.37 L505.76,235.20 L505.87,236.05 L506.00,237.00 L506.15,238.04 L506.33,239.11 L506.51,240.21 L506.71,241.31 L506.91,242.41 L507.10,243.50 L507.29,244.58 L507.48,245.65 L507.67,246.72 L507.87,247.80 L508.08,248.89 L508.30,250.00 L508.53,251.14 L508.77,252.30 L509.02,253.48 L509.28,254.66 L509.54,255.84 L509.80,257.00 L510.07,258.12 L510.35,259.19 L510.63,260.26 L510.91,261.36 L511.17,262.53 L511.40,263.80 L511.63,265.22 L511.87,266.77 L512.09,268.39 L512.27,270.01 L512.38,271.57 L512.40,273.00 L512.30,274.28 L512.11,275.44 L511.85,276.54 L511.54,277.64 L511.22,278.77 L510.90,280.00 L510.57,281.36 L510.21,282.83 L509.82,284.34 L509.44,285.83 L509.06,287.24 L508.70,288.50 L508.37,289.58 L508.05,290.51 L507.74,291.36 L507.43,292.18 L507.12,293.04 L506.80,294.00 L506.47,295.03 L506.13,296.08 L505.78,297.17 L505.44,298.31 L505.11,299.51 L504.80,300.80 L504.50,302.16 L504.21,303.59 L503.92,305.08 L503.66,306.64 L503.42,308.28 L503.20,310.00 L503.01,311.98 L502.84,314.24 L502.70,316.57 L502.58,318.79 L502.48,320.66 L502.40,322.00 L502.40,322.00 L502.32,320.66 L502.22,318.79 L502.10,316.57 L501.96,314.24 L501.79,311.98 L501.60,310.00 L501.38,308.28 L501.14,306.64 L500.88,305.08 L500.59,303.59 L500.30,302.16 L500.00,300.80 L499.69,299.51 L499.36,298.31 L499.02,297.17 L498.67,296.08 L498.33,295.03 L498.00,294.00 L497.68,293.04 L497.37,292.18 L497.06,291.36 L496.75,290.51 L496.43,289.58 L496.10,288.50 L495.74,287.24 L495.36,285.83 L494.97,284.34 L494.59,282.83 L494.23,281.36 L493.90,280.00 L493.58,278.77 L493.26,277.64 L492.95,276.54 L492.69,275.44 L492.50,274.28 L492.40,273.00 L492.42,271.57 L492.53,270.01 L492.71,268.39 L492.93,266.77 L493.17,265.22 L493.40,263.80 L493.63,262.53 L493.89,261.36 L494.17,260.26 L494.45,259.19 L494.73,258.12 L495.00,257.00 L495.26,255.84 L495.52,254.66 L495.77,253.48 L496.03,252.30 L496.27,251.14 L496.50,250.00 L496.72,248.89 L496.93,247.80 L497.12,246.72 L497.32,245.65 L497.51,244.58 L497.70,243.50 L497.89,242.41 L498.09,241.31 L498.29,240.21 L498.47,239.11 L498.65,238.04 L498.80,237.00 L498.93,236.05 L499.04,235.20 L499.13,234.37 L499.22,233.48 L499.31,232.45 L499.40,231.20 L499.51,229.64 L499.62,227.80 L499.73,225.83 L499.84,223.84 L499.93,221.99 L500.00,220.40 L500.05,219.14 L500.07,218.10 L500.09,217.20 L500.09,216.32 L500.09,215.35 L500.10,214.20 L500.10,212.85 L500.10,211.39 L500.09,209.84 L500.09,208.24 L500.09,206.61 L500.10,205.00 L500.12,203.37 L500.15,201.70 L500.18,200.00 L500.22,198.30 L500.26,196.63 L500.30,195.00 L500.34,193.47 L500.37,192.04 L500.40,190.64 L500.44,189.18 L500.51,187.59 L500.60,185.80 L500.73,183.72 L500.89,181.40 L501.07,178.96 L501.26,176.50 L501.44,174.14 L501.60,172.00 L501.75,169.99 L501.91,167.99 L502.06,166.09 L502.20,164.38 L502.32,162.96 L502.40,161.90Z" fill="#fbb394" stroke="#3a3a3a" stroke-width="0.9" stroke-linejoin="round"/>
<line x1="495.00" y1="257.0" x2="509.80" y2="257.0" stroke="#111" stroke-width="1.8"/>
<line x1="493.47" y1="263.4" x2="511.33" y2="263.4" stroke="#dd1111" stroke-width="1.8"/>
<circle cx="502.3" cy="200.4" r="3.45" fill="#afafb4" stroke="#262626" stroke-width="1.2"/>
<circle cx="502.3" cy="234.2" r="3.45" fill="#afafb4" stroke="#262626" stroke-width="1.2"/>
<circle cx="502.3" cy="260.8" r="3.45" fill="#afafb4" stroke="#262626" stroke-width="1.2"/>
<circle cx="502.3" cy="257.2" r="3.45" fill="#afafb4" stroke="#262626" stroke-width="1.2"/>
<circle cx="502.3" cy="266.4" r="3.45" fill="#afafb4" stroke="#262626" stroke-width="1.2"/>
<circle cx="502.3" cy="272.2" r="3.45" fill="#afafb4" stroke="#262626" stroke-width="1.2"/>
<circle cx="502.3" cy="282.8" r="3.45" fill="#afafb4" stroke="#262626" stroke-width="1.2"/>
<circle cx="502.3" cy="279.6" r="3.45" fill="#afafb4" stroke="#262626" stroke-width="1.2"/>
<path d="M534.30,136.90 L534.39,138.36 L534.51,140.41 L534.66,142.83 L534.82,145.38 L534.97,147.84 L535.10,150.00 L535.21,151.86 L535.31,153.62 L535.41,155.29 L535.51,156.89 L535.60,158.46 L535.70,160.00 L535.80,161.49 L535.91,162.91 L536.01,164.28 L536.11,165.65 L536.21,167.04 L536.30,168.50 L536.38,170.02 L536.47,171.59 L536.54,173.17 L536.61,174.78 L536.66,176.39 L536.70,178.00 L536.71,179.63 L536.70,181.31 L536.68,182.99 L536.65,184.64 L536.62,186.22 L536.60,187.70 L536.58,189.05 L536.56,190.29 L536.54,191.46 L536.52,192.60 L536.51,193.77 L536.50,195.00 L536.50,196.30 L536.49,197.65 L536.49,199.02 L536.50,200.38 L536.53,201.72 L536.60,203.00 L536.70,204.21 L536.81,205.35 L536.96,206.47 L537.12,207.59 L537.30,208.76 L537.50,210.00 L537.73,211.34 L537.98,212.76 L538.26,214.22 L538.54,215.69 L538.83,217.12 L539.10,218.50 L539.37,219.80 L539.63,221.06 L539.90,222.29 L540.17,223.51 L540.43,224.74 L540.70,226.00 L540.97,227.32 L541.26,228.68 L541.54,230.06 L541.81,231.40 L542.07,232.66 L542.30,233.80 L542.50,234.76 L542.68,235.57 L542.84,236.31 L542.99,237.04 L543.14,237.84 L543.30,238.80 L543.49,239.92 L543.70,241.14 L543.91,242.43 L544.10,243.77 L544.24,245.14 L544.30,246.50 L544.28,247.87 L544.18,249.27 L544.04,250.70 L543.86,252.14 L543.68,253.57 L543.50,255.00 L543.33,256.44 L543.14,257.91 L542.95,259.38 L542.74,260.81 L542.53,262.20 L542.30,263.50 L542.06,264.71 L541.80,265.84 L541.54,266.92 L541.26,267.96 L540.98,268.98 L540.70,270.00 L540.41,271.03 L540.10,272.04 L539.78,273.04 L539.47,274.01 L539.17,274.93 L538.90,275.80 L538.65,276.59 L538.42,277.32 L538.20,278.00 L537.99,278.66 L537.79,279.32 L537.60,280.00 L537.41,280.68 L537.24,281.33 L537.07,281.98 L536.91,282.65 L536.75,283.38 L536.60,284.20 L536.46,285.08 L536.32,285.99 L536.19,286.96 L536.07,288.01 L535.94,289.15 L535.80,290.40 L535.65,291.81 L535.50,293.36 L535.34,295.01 L535.18,296.70 L535.03,298.38 L534.90,300.00 L534.78,301.66 L534.66,303.44 L534.54,305.20 L534.44,306.83 L534.36,308.20 L534.30,309.20 L534.30,309.20 L534.24,308.20 L534.16,306.83 L534.06,305.20 L533.94,303.44 L533.82,301.66 L533.70,300.00 L533.57,298.38 L533.42,296.70 L533.26,295.01 L533.10,293.36 L532.95,291.81 L532.80,290.40 L532.66,289.15 L532.53,288.01 L532.41,286.96 L532.28,285.99 L532.14,285.08 L532.00,284.20 L531.85,283.38 L531.69,282.65 L531.53,281.98 L531.36,281.33 L531.19,280.68 L531.00,280.00 L530.81,279.32 L530.61,278.66 L530.40,278.00 L530.18,277.32 L529.95,276.59 L529.70,275.80 L529.43,274.93 L529.13,274.01 L528.82,273.04 L528.50,272.04 L528.19,271.03 L527.90,270.00 L527.62,268.98 L527.34,267.96 L527.06,266.92 L526.80,265.84 L526.54,264.71 L526.30,263.50 L526.07,262.20 L525.86,260.81 L525.65,259.38 L525.46,257.91 L525.27,256.44 L525.10,255.00 L524.92,253.57 L524.74,252.14 L524.56,250.70 L524.42,249.27 L524.32,247.87 L524.30,246.50 L524.36,245.14 L524.50,243.77 L524.69,242.43 L524.90,241.14 L525.11,239.92 L525.30,238.80 L525.46,237.84 L525.61,237.04 L525.76,236.31 L525.92,235.57 L526.10,234.76 L526.30,233.80 L526.53,232.66 L526.79,231.40 L527.06,230.06 L527.34,228.68 L527.63,227.32 L527.90,226.00 L528.17,224.74 L528.43,223.51 L528.70,222.29 L528.97,221.06 L529.23,219.80 L529.50,218.50 L529.77,217.12 L530.06,215.69 L530.34,214.22 L530.62,212.76 L530.87,211.34 L531.10,210.00 L531.30,208.76 L531.48,207.59 L531.64,206.47 L531.79,205.35 L531.90,204.21 L532.00,203.00 L532.07,201.72 L532.10,200.38 L532.11,199.02 L532.11,197.65 L532.10,196.30 L532.10,195.00 L532.09,193.77 L532.08,192.60 L532.06,191.46 L532.04,190.29 L532.02,189.05 L532.00,187.70 L531.98,186.22 L531.95,184.64 L531.92,182.99 L531.90,181.31 L531.89,179.63 L531.90,178.00 L531.94,176.39 L531.99,174.78 L532.06,173.17 L532.13,171.59 L532.22,170.02 L532.30,168.50 L532.39,167.04 L532.49,165.65 L532.59,164.28 L532.69,162.91 L532.80,161.49 L532.90,160.00 L533.00,158.46 L533.09,156.89 L533.19,155.29 L533.29,153.62 L533.39,151.86 L533.50,150.00 L533.63,147.84 L533.78,145.38 L533.94,142.83 L534.09,140.41 L534.21,138.36 L534.30,136.90Z" fill="#a8e080" stroke="#3a3a3a" stroke-width="0.9" stroke-linejoin="round"/>
<line x1="525.30" y1="238.8" x2="543.30" y2="238.8" stroke="#111" stroke-width="1.8"/>
<line x1="524.30" y1="246.5" x2="544.30" y2="246.5" stroke="#dd1111" stroke-width="1.8"/>
<circle cx="534.3" cy="180" r="3.45" fill="#afafb4" stroke="#262626" stroke-width="1.2"/>
<circle cx="534.3" cy="225.8" r="3.45" fill="#afafb4" stroke="#262626" stroke-width="1.2"/>
<circle cx="534.3" cy="234.2" r="3.45" fill="#afafb4" stroke="#262626" stroke-width="1.2"/>
<circle cx="536.3" cy="248.2" r="3.45" fill="#afafb4" stroke="#262626" stroke-width="1.2"/>
<circle cx="534.2" cy="244.1" r="3.45" fill="#afafb4" stroke="#262626" stroke-width="1.2"/>
<circle cx="533.0" cy="248.7" r="3.45" fill="#afafb4" stroke="#262626" stroke-width="1.2"/>
<circle cx="534.3" cy="265.9" r="3.45" fill="#afafb4" stroke="#262626" stroke-width="1.2"/>
<circle cx="534.3" cy="262.6" r="3.45" fill="#afafb4" stroke="#262626" stroke-width="1.2"/>
<path d="M598.50,195.10 L598.63,195.85 L598.81,196.88 L599.03,198.10 L599.26,199.42 L599.49,200.75 L599.70,202.00 L599.89,203.15 L600.09,204.28 L600.29,205.42 L600.47,206.60 L600.65,207.85 L600.80,209.20 L600.93,210.71 L601.05,212.37 L601.16,214.10 L601.25,215.83 L601.33,217.49 L601.40,219.00 L601.46,220.36 L601.50,221.61 L601.52,222.79 L601.55,223.93 L601.57,225.05 L601.60,226.20 L601.63,227.39 L601.65,228.60 L601.67,229.80 L601.70,230.96 L601.74,232.03 L601.80,233.00 L601.87,233.84 L601.96,234.56 L602.06,235.21 L602.16,235.81 L602.28,236.40 L602.40,237.00 L602.52,237.58 L602.65,238.11 L602.78,238.63 L602.93,239.16 L603.10,239.74 L603.30,240.40 L603.53,241.13 L603.80,241.90 L604.08,242.73 L604.38,243.60 L604.69,244.52 L605.00,245.50 L605.33,246.59 L605.69,247.79 L606.05,249.04 L606.40,250.28 L606.73,251.46 L607.00,252.50 L607.22,253.40 L607.40,254.20 L607.56,254.94 L607.69,255.63 L607.80,256.31 L607.90,257.00 L608.00,257.68 L608.09,258.33 L608.17,258.97 L608.22,259.61 L608.23,260.28 L608.20,261.00 L608.12,261.76 L608.01,262.53 L607.86,263.33 L607.68,264.17 L607.46,265.06 L607.20,266.00 L606.89,267.03 L606.53,268.16 L606.12,269.33 L605.71,270.51 L605.29,271.64 L604.90,272.70 L604.53,273.66 L604.16,274.56 L603.79,275.42 L603.42,276.27 L603.06,277.12 L602.70,278.00 L602.33,278.92 L601.96,279.86 L601.59,280.80 L601.24,281.73 L600.90,282.64 L600.60,283.50 L600.33,284.31 L600.08,285.09 L599.85,285.84 L599.64,286.57 L599.46,287.29 L599.30,288.00 L599.17,288.66 L599.07,289.27 L598.99,289.86 L598.92,290.48 L598.86,291.18 L598.80,292.00 L598.73,293.05 L598.67,294.31 L598.62,295.65 L598.57,296.93 L598.53,298.03 L598.50,298.80 L598.50,298.80 L598.47,298.03 L598.43,296.93 L598.38,295.65 L598.33,294.31 L598.27,293.05 L598.20,292.00 L598.14,291.18 L598.08,290.48 L598.01,289.86 L597.93,289.27 L597.83,288.66 L597.70,288.00 L597.54,287.29 L597.36,286.57 L597.15,285.84 L596.92,285.09 L596.67,284.31 L596.40,283.50 L596.10,282.64 L595.76,281.73 L595.41,280.80 L595.04,279.86 L594.67,278.92 L594.30,278.00 L593.94,277.12 L593.58,276.27 L593.21,275.42 L592.84,274.56 L592.47,273.66 L592.10,272.70 L591.71,271.64 L591.29,270.51 L590.88,269.33 L590.47,268.16 L590.11,267.03 L589.80,266.00 L589.54,265.06 L589.32,264.17 L589.14,263.33 L588.99,262.53 L588.88,261.76 L588.80,261.00 L588.77,260.28 L588.78,259.61 L588.83,258.97 L588.91,258.33 L589.00,257.68 L589.10,257.00 L589.20,256.31 L589.31,255.63 L589.44,254.94 L589.60,254.20 L589.78,253.40 L590.00,252.50 L590.27,251.46 L590.60,250.28 L590.95,249.04 L591.31,247.79 L591.67,246.59 L592.00,245.50 L592.31,244.52 L592.62,243.60 L592.92,242.73 L593.20,241.90 L593.47,241.13 L593.70,240.40 L593.90,239.74 L594.07,239.16 L594.22,238.63 L594.35,238.11 L594.48,237.58 L594.60,237.00 L594.72,236.40 L594.84,235.81 L594.94,235.21 L595.04,234.56 L595.13,233.84 L595.20,233.00 L595.26,232.03 L595.30,230.96 L595.33,229.80 L595.35,228.60 L595.37,227.39 L595.40,226.20 L595.43,225.05 L595.45,223.93 L595.48,222.79 L595.50,221.61 L595.54,220.36 L595.60,219.00 L595.67,217.49 L595.75,215.83 L595.84,214.10 L595.95,212.37 L596.07,210.71 L596.20,209.20 L596.35,207.85 L596.53,206.60 L596.71,205.42 L596.91,204.28 L597.11,203.15 L597.30,202.00 L597.51,200.75 L597.74,199.42 L597.97,198.10 L598.19,196.88 L598.37,195.85 L598.50,195.10Z" fill="#fbb394" stroke="#3a3a3a" stroke-width="0.9" stroke-linejoin="round"/>
<line x1="589.78" y1="253.4" x2="607.22" y2="253.4" stroke="#111" stroke-width="1.8"/>
<line x1="589.24" y1="256.1" x2="607.76" y2="256.1" stroke="#dd1111" stroke-width="1.8"/>
<circle cx="598.5" cy="219.2" r="3.45" fill="#afafb4" stroke="#262626" stroke-width="1.2"/>
<circle cx="598.5" cy="235.4" r="3.45" fill="#afafb4" stroke="#262626" stroke-width="1.2"/>
<circle cx="598.5" cy="253.5" r="3.45" fill="#afafb4" stroke="#262626" stroke-width="1.2"/>
<circle cx="598.5" cy="258.3" r="3.45" fill="#afafb4" stroke="#262626" stroke-width="1.2"/>
<circle cx="598.5" cy="268.8" r="3.45" fill="#afafb4" stroke="#262626" stroke-width="1.2"/>
<circle cx="598.5" cy="273.7" r="3.45" fill="#afafb4" stroke="#262626" stroke-width="1.2"/>
<path d="M630.50,133.10 L630.61,134.35 L630.75,136.04 L630.92,138.06 L631.11,140.30 L631.31,142.65 L631.50,145.00 L631.69,147.44 L631.88,150.07 L632.08,152.82 L632.29,155.58 L632.49,158.27 L632.70,160.80 L632.92,163.23 L633.16,165.66 L633.39,168.01 L633.62,170.23 L633.83,172.25 L634.00,174.00 L634.12,175.40 L634.21,176.47 L634.27,177.34 L634.33,178.14 L634.40,178.98 L634.50,180.00 L634.65,181.18 L634.84,182.42 L635.04,183.71 L635.24,185.03 L635.40,186.36 L635.50,187.70 L635.54,189.06 L635.53,190.47 L635.48,191.89 L635.42,193.31 L635.35,194.68 L635.30,196.00 L635.26,197.23 L635.21,198.40 L635.16,199.53 L635.10,200.66 L635.05,201.80 L635.00,203.00 L634.94,204.26 L634.88,205.56 L634.82,206.89 L634.76,208.21 L634.72,209.53 L634.70,210.80 L634.70,212.02 L634.71,213.21 L634.74,214.38 L634.79,215.55 L634.84,216.75 L634.90,218.00 L634.97,219.34 L635.04,220.75 L635.12,222.19 L635.22,223.61 L635.34,224.96 L635.50,226.20 L635.69,227.29 L635.91,228.25 L636.16,229.15 L636.42,230.04 L636.70,230.97 L637.00,232.00 L637.33,233.14 L637.69,234.34 L638.08,235.59 L638.45,236.86 L638.80,238.14 L639.10,239.40 L639.36,240.66 L639.60,241.94 L639.81,243.23 L639.99,244.50 L640.12,245.77 L640.20,247.00 L640.22,248.21 L640.18,249.40 L640.09,250.57 L639.98,251.73 L639.84,252.88 L639.70,254.00 L639.54,255.10 L639.35,256.17 L639.14,257.23 L638.92,258.28 L638.70,259.33 L638.50,260.40 L638.32,261.49 L638.16,262.61 L637.99,263.73 L637.82,264.83 L637.63,265.90 L637.40,266.90 L637.13,267.84 L636.81,268.74 L636.48,269.61 L636.14,270.43 L635.81,271.23 L635.50,272.00 L635.22,272.72 L634.94,273.37 L634.68,273.99 L634.42,274.61 L634.16,275.27 L633.90,276.00 L633.63,276.83 L633.35,277.73 L633.08,278.67 L632.80,279.60 L632.54,280.49 L632.30,281.30 L632.07,282.01 L631.84,282.64 L631.62,283.23 L631.42,283.80 L631.25,284.38 L631.10,285.00 L630.99,285.61 L630.92,286.18 L630.87,286.76 L630.83,287.40 L630.79,288.13 L630.75,289.00 L630.70,290.13 L630.65,291.52 L630.60,293.00 L630.56,294.43 L630.53,295.64 L630.50,296.50 L630.50,296.50 L630.47,295.64 L630.44,294.43 L630.40,293.00 L630.35,291.52 L630.30,290.13 L630.25,289.00 L630.21,288.13 L630.17,287.40 L630.13,286.76 L630.08,286.18 L630.01,285.61 L629.90,285.00 L629.75,284.38 L629.58,283.80 L629.38,283.23 L629.16,282.64 L628.93,282.01 L628.70,281.30 L628.46,280.49 L628.20,279.60 L627.92,278.67 L627.65,277.73 L627.37,276.83 L627.10,276.00 L626.84,275.27 L626.58,274.61 L626.32,273.99 L626.06,273.37 L625.78,272.72 L625.50,272.00 L625.19,271.23 L624.86,270.43 L624.52,269.61 L624.19,268.74 L623.87,267.84 L623.60,266.90 L623.37,265.90 L623.18,264.83 L623.01,263.73 L622.84,262.61 L622.68,261.49 L622.50,260.40 L622.30,259.33 L622.08,258.28 L621.86,257.23 L621.65,256.17 L621.46,255.10 L621.30,254.00 L621.16,252.88 L621.02,251.73 L620.91,250.57 L620.82,249.40 L620.78,248.21 L620.80,247.00 L620.88,245.77 L621.01,244.50 L621.19,243.23 L621.40,241.94 L621.64,240.66 L621.90,239.40 L622.20,238.14 L622.55,236.86 L622.92,235.59 L623.31,234.34 L623.67,233.14 L624.00,232.00 L624.30,230.97 L624.58,230.04 L624.84,229.15 L625.09,228.25 L625.31,227.29 L625.50,226.20 L625.66,224.96 L625.78,223.61 L625.88,222.19 L625.96,220.75 L626.03,219.34 L626.10,218.00 L626.16,216.75 L626.21,215.55 L626.26,214.38 L626.29,213.21 L626.30,212.02 L626.30,210.80 L626.28,209.53 L626.24,208.21 L626.18,206.89 L626.12,205.56 L626.06,204.26 L626.00,203.00 L625.95,201.80 L625.90,200.66 L625.84,199.53 L625.79,198.40 L625.74,197.23 L625.70,196.00 L625.65,194.68 L625.58,193.31 L625.52,191.89 L625.47,190.47 L625.46,189.06 L625.50,187.70 L625.60,186.36 L625.76,185.03 L625.96,183.71 L626.16,182.42 L626.35,181.18 L626.50,180.00 L626.60,178.98 L626.67,178.14 L626.73,177.34 L626.79,176.47 L626.88,175.40 L627.00,174.00 L627.17,172.25 L627.38,170.23 L627.61,168.01 L627.84,165.66 L628.08,163.23 L628.30,160.80 L628.51,158.27 L628.71,155.58 L628.92,152.82 L629.12,150.07 L629.31,147.44 L629.50,145.00 L629.69,142.65 L629.89,140.30 L630.08,138.06 L630.25,136.04 L630.39,134.35 L630.50,133.10Z" fill="#a8e080" stroke="#3a3a3a" stroke-width="0.9" stroke-linejoin="round"/>
<line x1="625.55" y1="225.8" x2="635.45" y2="225.8" stroke="#111" stroke-width="1.8"/>
<line x1="621.88" y1="239.5" x2="639.12" y2="239.5" stroke="#dd1111" stroke-width="1.8"/>
<circle cx="630.5" cy="174.3" r="3.45" fill="#afafb4" stroke="#262626" stroke-width="1.2"/>
<circle cx="630.5" cy="196.6" r="3.45" fill="#afafb4" stroke="#262626" stroke-width="1.2"/>
<circle cx="630.5" cy="202.3" r="3.45" fill="#afafb4" stroke="#262626" stroke-width="1.2"/>
<circle cx="630.5" cy="233.1" r="3.45" fill="#afafb4" stroke="#262626" stroke-width="1.2"/>
<circle cx="628.9" cy="249.7" r="3.45" fill="#afafb4" stroke="#262626" stroke-width="1.2"/>
<circle cx="632.9" cy="249.4" r="3.45" fill="#afafb4" stroke="#262626" stroke-width="1.2"/>
<circle cx="630.2" cy="245.7" r="3.45" fill="#afafb4" stroke="#262626" stroke-width="1.2"/>
<circle cx="630.5" cy="255.8" r="3.45" fill="#afafb4" stroke="#262626" stroke-width="1.2"/>
<line x1="308.1" y1="5.4" x2="331.5" y2="5.4" stroke="#111" stroke-width="1.6"/>
<line x1="308.1" y1="20.4" x2="331.5" y2="20.4" stroke="#dd1111" stroke-width="1.6"/>
<text x="333.8" y="10.1" font-size="10" text-anchor="start" font-weight="normal" fill="#222" textLength="26" lengthAdjust="spacingAndGlyphs">Mean</text>
<text x="333.8" y="23.9" font-size="10" text-anchor="start" font-weight="normal" fill="#222" textLength="34.3" lengthAdjust="spacingAndGlyphs">Median</text>
<rect x="306.5" y="29.7" width="22.2" height="12.6" fill="#fbb394" stroke="#5b79a8" stroke-width="1"/>
<rect x="306.5" y="50.6" width="22.2" height="12.9" fill="#a8e080" stroke="#5b79a8" stroke-width="1"/>
<text x="338.3" y="42.7" font-size="10.2" text-anchor="start" font-weight="normal" fill="#222" textLength="29.7" lengthAdjust="spacingAndGlyphs">Phoria</text>
<text x="337.7" y="62.5" font-size="10.2" text-anchor="start" font-weight="normal" fill="#222" textLength="33" lengthAdjust="spacingAndGlyphs">Control</text>
<text x="61.4" y="368.0" font-size="12.0" text-anchor="start" font-weight="normal" fill="#111" textLength="51.5" lengthAdjust="spacingAndGlyphs">Binocular</text>
<text x="160.4" y="367.7" font-size="12.0" text-anchor="start" font-weight="normal" fill="#111" textLength="54.3" lengthAdjust="spacingAndGlyphs">Dominant</text>
<text x="160.6" y="383.4" font-size="12.0" text-anchor="start" font-weight="normal" fill="#111" textLength="18.2" lengthAdjust="spacingAndGlyphs">eye</text>
<text x="260.5" y="367.7" font-size="12.0" text-anchor="start" font-weight="normal" fill="#111" textLength="80.1" lengthAdjust="spacingAndGlyphs">Non-dominant</text>
<text x="260.7" y="383.7" font-size="12.0" text-anchor="start" font-weight="normal" fill="#111" textLength="18.2" lengthAdjust="spacingAndGlyphs">eye</text>
<text x="396.7" y="368.3" font-size="12.0" text-anchor="start" font-weight="normal" fill="#111" textLength="50.3" lengthAdjust="spacingAndGlyphs">Binocular</text>
<text x="490.8" y="369.0" font-size="12.0" text-anchor="start" font-weight="normal" fill="#111" textLength="54.5" lengthAdjust="spacingAndGlyphs">Dominant</text>
<text x="491.0" y="385.1" font-size="12.0" text-anchor="start" font-weight="normal" fill="#111" textLength="18.2" lengthAdjust="spacingAndGlyphs">eye</text>
<text x="581.9" y="369.0" font-size="12.0" text-anchor="start" font-weight="normal" fill="#111" textLength="80.5" lengthAdjust="spacingAndGlyphs">Non-dominant</text>
<text x="582.1" y="385.2" font-size="12.0" text-anchor="start" font-weight="normal" fill="#111" textLength="18.2" lengthAdjust="spacingAndGlyphs">eye</text>
<text transform="translate(12.3,350.2) rotate(-90)" x="0" y="0" font-size="12.2" font-weight="bold" fill="#111" textLength="230.6" lengthAdjust="spacingAndGlyphs">Contrast detection threshold (in log unit)</text>
</svg>
</body></html>
